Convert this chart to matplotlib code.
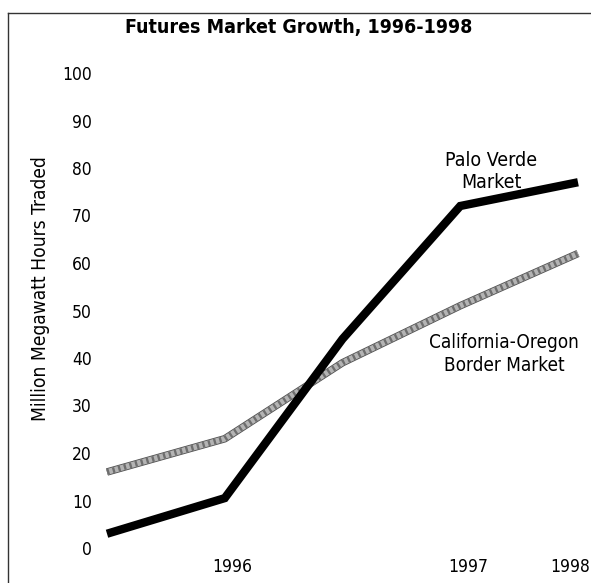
import matplotlib
matplotlib.use('Agg')
import matplotlib.pyplot as plt
import matplotlib.patheffects as pe
import matplotlib.transforms as mtransforms
from matplotlib.lines import Line2D

# Volumen de futuros (millones de MWh), puntos equiespaciados en el tiempo
periodos = [0, 1, 2, 3, 4]
palo_verde = [3, 10.5, 44, 72, 77]
cal_oregon = [16, 23, 39, 51, 62]
pos_anios = [1, 3, 4]
etiquetas_anios = ['1996', '1997', '1998']
ticks_y = [0, 10, 20, 30, 40, 50, 60, 70, 80, 90, 100]

plt.rcParams['font.family'] = ['DejaVu Sans']
plt.rcParams['font.stretch'] = 'condensed'

W, H = 591, 583
fig = plt.figure(figsize=(W / 100, H / 100), dpi=100)
ax = fig.add_axes([107 / W, 1 - 548 / H, (578 - 107) / W, (548 - 73) / H])

# Línea gris con textura (California-Oregon)
ax.plot(periodos, cal_oregon, color='#b4b4b4', lw=4.2, solid_capstyle='butt',
        clip_on=False, zorder=2,
        path_effects=[pe.Stroke(linewidth=5.4, foreground='#505050'), pe.Normal()])
ax.plot(periodos, cal_oregon, color='#6e6e6e', lw=4.2, ls=(0, (0.4, 0.6)),
        solid_capstyle='butt', dash_capstyle='butt', clip_on=False, zorder=3)

# Línea negra (Palo Verde)
ax.plot(periodos, palo_verde, color='black', lw=6.0, solid_capstyle='butt',
        solid_joinstyle='miter', clip_on=False, zorder=4)

ax.set_xlim(0, 4)
ax.set_ylim(0, 100)
ax.set_yticks(ticks_y)
ax.set_yticklabels([str(t) for t in ticks_y], fontsize=12.5)
ax.set_xticks(pos_anios)
ax.set_xticklabels(etiquetas_anios, fontsize=12.5)
ax.tick_params(axis='both', length=0)
ax.tick_params(axis='y', pad=11)
ax.tick_params(axis='x', pad=7)
# desplazamiento horizontal de las etiquetas de año (en píxeles)
desplaz = {'1996': 8, '1997': 8, '1998': -8}
for lbl in ax.get_xticklabels():
    dx = desplaz[lbl.get_text()]
    lbl.set_transform(lbl.get_transform() +
                      mtransforms.ScaledTranslation(dx / 100, 0, fig.dpi_scale_trans))
for s in ax.spines.values():
    s.set_visible(False)

fig.text(41 / W, 1 - 289 / H, 'Million Megawatt Hours Traded', rotation=90,
         ha='center', va='center', fontsize=13.8)

fig.text(299 / W, 1 - 27 / H, 'Futures Market Growth, 1996-1998',
         ha='center', va='center', fontsize=14, fontweight='bold')

fig.text(491 / W, 1 - 171 / H, 'Palo Verde\nMarket', ha='center', va='center',
         fontsize=14, linespacing=1.2)
fig.text(504 / W, 1 - 354 / H, 'California-Oregon\nBorder Market', ha='center',
         va='center', fontsize=13.6, linespacing=1.22)

# Marco de la figura
fig.add_artist(Line2D([8 / W, 8 / W], [0, 1 - 13 / H], color='#333333', lw=1.0))
fig.add_artist(Line2D([8 / W, 1], [1 - 13 / H, 1 - 13 / H], color='#333333', lw=1.0))

fig.savefig('out.png', dpi=100)
